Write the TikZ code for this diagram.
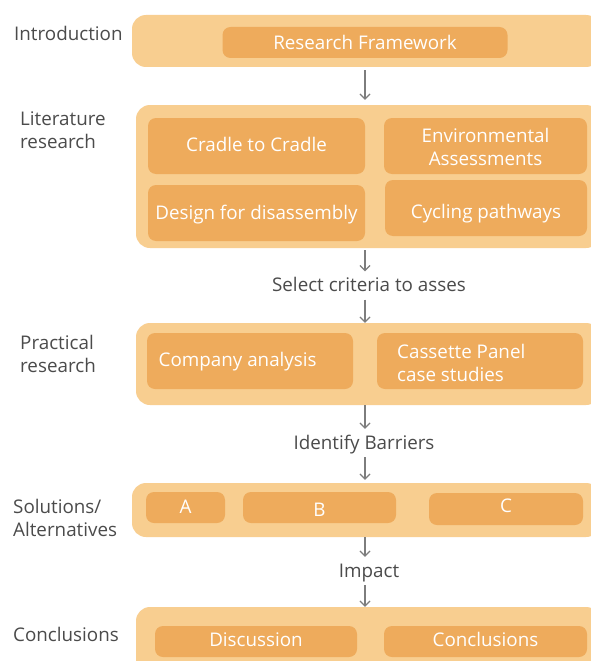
\documentclass[tikz,border=0pt]{standalone}
\usepackage{fontspec}
\setmainfont{Open Sans}
\usetikzlibrary{arrows.meta}
\definecolor{outerc}{RGB}{248,206,144}
\definecolor{innerc}{RGB}{238,171,92}
\definecolor{txt}{RGB}{75,75,75}
\definecolor{arrc}{RGB}{125,125,125}
\tikzset{
 outerbox/.style={fill=outerc, rounded corners=14pt, inner sep=0pt},
 innerbox/.style={fill=innerc, rounded corners=8pt, inner sep=0pt},
 boxtext/.style={text=white, font=\fontsize{18.8}{23}\selectfont, align=center, inner sep=0pt},
 boxtextl/.style={boxtext, align=left, anchor=west},
 lab/.style={text=txt, font=\fontsize{18.8}{23}\selectfont, align=left, anchor=west, inner sep=0pt},
 flowlab/.style={text=txt, font=\fontsize{18.8}{23}\selectfont, inner sep=0pt, text height=13pt, text depth=4pt},
 arr/.style={draw=arrc, line width=1.2pt, -{Straight Barb[length=5pt,width=10pt]}}
}
\begin{document}
\begin{tikzpicture}[x=1pt,y=-1pt]
\clip (0,0) rectangle (591,661);
\fill[white] (0,0) rectangle (591,661);
% outer boxes
\node[outerbox, minimum width=468pt, minimum height=52pt] (O1) at (366,41) {};
\node[outerbox, minimum width=464pt, minimum height=143pt] (O2) at (368,176.5) {};
\node[outerbox, minimum width=464pt, minimum height=82pt] (O3) at (368,364) {};
\node[outerbox, minimum width=468pt, minimum height=54pt] (O4) at (366,510) {};
\node[outerbox, minimum width=464pt, minimum height=83pt] (O5) at (368,648.5) {};
% inner boxes
\node[innerbox, minimum width=285pt, minimum height=31pt] (RF) at (365,42.5) {};
\node[innerbox, minimum width=217pt, minimum height=56pt] (C2C) at (256.5,146) {};
\node[innerbox, minimum width=203pt, minimum height=56pt] (EA) at (485.5,146) {};
\node[innerbox, minimum width=217pt, minimum height=56pt] (DfD) at (256.5,213) {};
\node[innerbox, minimum width=202pt, minimum height=56pt] (CP) at (486,208) {};
\node[innerbox, minimum width=206pt, minimum height=56pt] (CA) at (250,361) {};
\node[innerbox, minimum width=206pt, minimum height=56pt] (CPC) at (480,361) {};
\node[innerbox, minimum width=79pt, minimum height=31pt] (A) at (185.5,507.5) {};
\node[innerbox, minimum width=153pt, minimum height=31pt] (B) at (319.5,507.5) {};
\node[innerbox, minimum width=154pt, minimum height=32pt] (C) at (506,509) {};
\node[innerbox, minimum width=202pt, minimum height=31pt] (D) at (256,641.5) {};
\node[innerbox, minimum width=203pt, minimum height=31pt] (CO) at (485.5,641.5) {};
% texts in boxes
\node[boxtext] (RFt) at (365,42.5) {Research Framework};
\node[boxtext] (C2Ct) at (256.5,144) {Cradle to Cradle};
\node[boxtext] (EAt) at (485.5,146.5) {Environmental\\Assessments};
\node[boxtext] (DfDt) at (256.5,214.5) {Design for disassembly};
\node[boxtext] (CPt) at (486,213.5) {Cycling pathways};
\node[boxtextl] (CAt) at (158.5,362) {Company analysis};
\node[boxtextl] (CPCt) at (397,363) {Cassette Panel\\case studies};
\node[boxtext] (At) at (185.5,506.5) {A};
\node[boxtext] (Bt) at (319.5,509.5) {B};
\node[boxtext] (Ct) at (506,506) {C};
\node[boxtext] (Dt) at (256,639.5) {Discussion};
\node[boxtext] (COt) at (485.5,639.5) {Conclusions};
% side labels
\node[lab] (L1) at (14,33.5) {Introduction};
\node[lab] (L2) at (20,130) {Literature\\research};
\node[lab] (L3) at (20,353.5) {Practical\\research};
\node[lab] (L4) at (13,518) {Solutions/\\Alternatives};
\node[lab] (L5) at (13,634) {Conclusions};
% flow labels
\node[flowlab] (S) at (369,287) {Select criteria to asses};
\node[flowlab] (I) at (364,444.5) {Identify Barriers};
\node[flowlab] (M) at (369,572.5) {Impact};
% arrows
\draw[arr] ([yshift=-3pt]O1.south -| RF.south) -- ([yshift=5pt]O2.north -| RF.south);
\draw[arr] ([yshift=-2pt]O2.south -| RF.south) -- ([yshift=7pt]S.north -| RF.south);
\draw[arr] ([yshift=-4pt]S.south -| RF.south) -- (O3.north -| RF.south);
\draw[arr] (O3.south -| RF.south) -- ([yshift=7pt]I.north -| RF.south);
\draw[arr] ([yshift=-4pt]I.south -| RF.south) -- ([yshift=3pt]O4.north -| RF.south);
\draw[arr] (O4.south -| RF.south) -- ([yshift=7pt]M.north -| RF.south);
\draw[arr] ([yshift=-4pt]M.south -| RF.south) -- (O5.north -| RF.south);
\end{tikzpicture}
\end{document}
